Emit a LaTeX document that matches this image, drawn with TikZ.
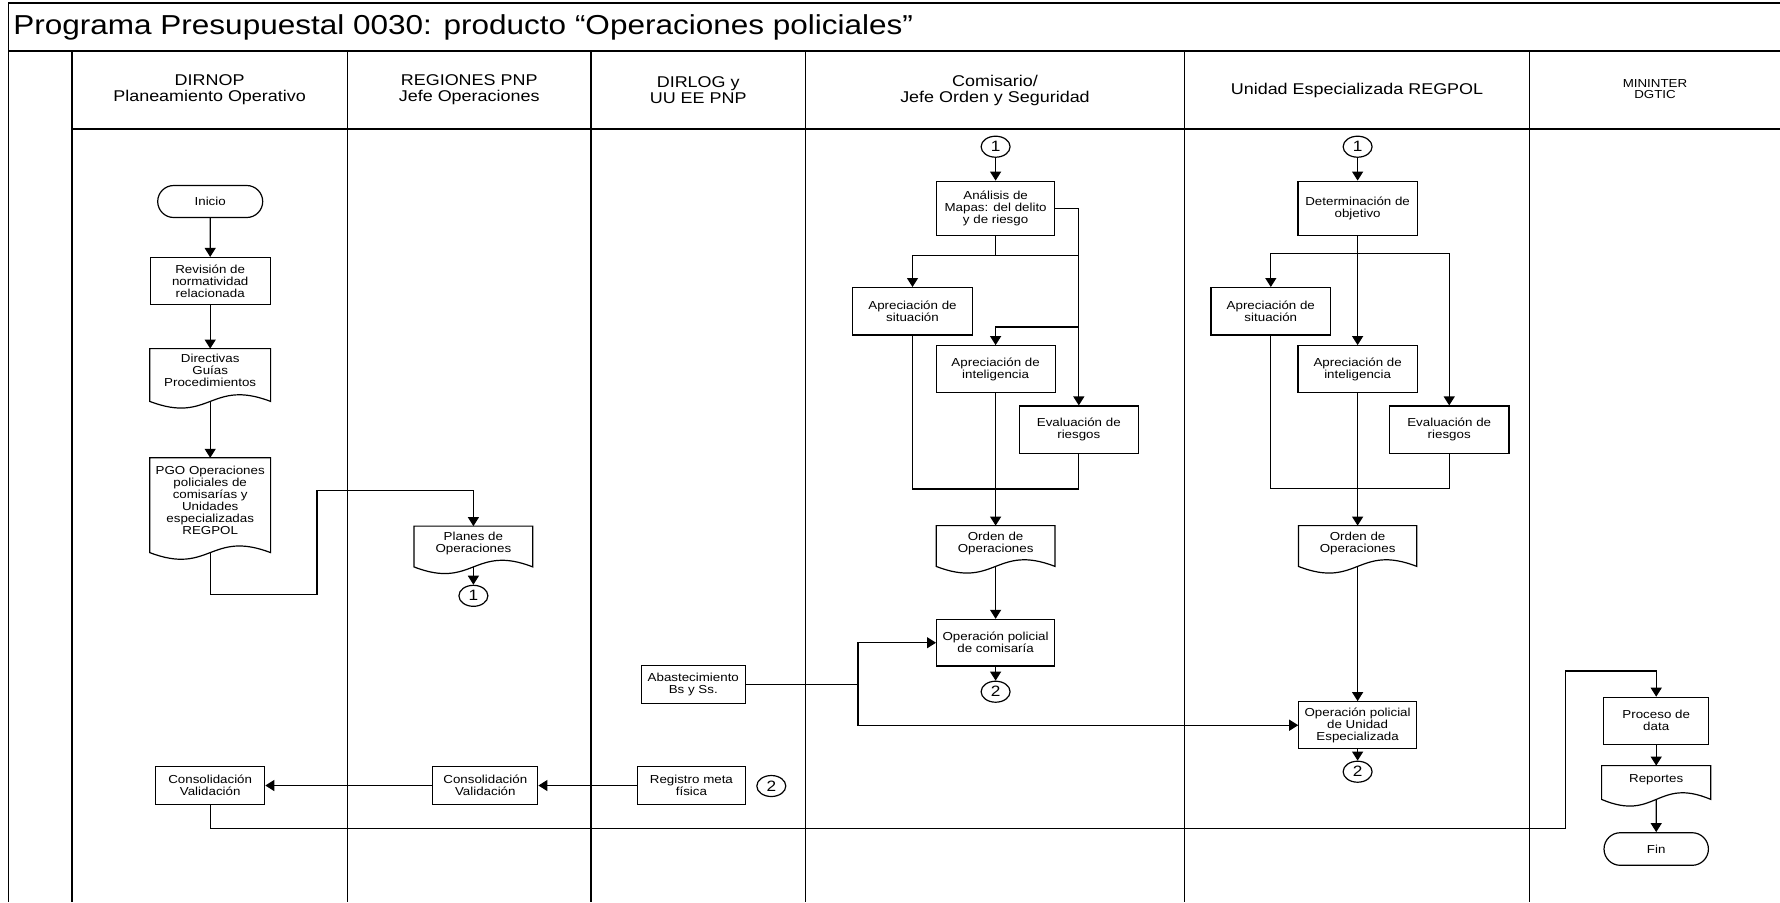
\documentclass[tikz,border=0pt]{standalone}
\usepackage{fontspec}
\setmainfont[FakeStretch=1.15]{Liberation Sans}
\usetikzlibrary{arrows.meta,shapes.geometric,shapes.misc,calc}
\newcommand{\titletxt}{\fontsize{13.7}{16}\selectfont}
\newcommand{\headtxt}{\fontsize{7.8}{8}\selectfont}
\newcommand{\tinytxt}{\fontsize{5.8}{5.5}\selectfont}
\newcommand{\smalltxt}{\fontsize{5.8}{6}\selectfont}
\newcommand{\numtxt}{\fontsize{7.5}{8}\selectfont}
\begin{document}
\begin{tikzpicture}[x=0.5pt,y=-0.5pt,
    proc/.style={draw, rectangle, line width=0.6pt, align=center, font=\smalltxt, inner sep=1pt},
    doc/.style={rectangle, align=center, font=\smalltxt, inner sep=1pt},
    term/.style={draw, rounded rectangle, line width=0.6pt, font=\smalltxt, inner sep=1pt},
    conn/.style={draw, ellipse, line width=0.6pt, font=\numtxt, inner sep=0pt, minimum width=14.5pt, minimum height=10.5pt},
    flow/.style={line width=0.6pt, -{Triangle[length=4.5pt,width=5.5pt]}},
    lane/.style={line width=0.9pt},
    head/.style={align=center, font=\headtxt}]
    \useasboundingbox (0,0) rectangle (1780,902);
    % frame and lanes
    \draw[lane] (1780,3) -- (8.5,3) -- (8.5,902);
    \draw[lane] (8.5,50.7) -- (1780,50.7);
    \draw[lane] (71.7,129.3) -- (1780,129.3);
    \draw[lane] (71.7,50.7) -- (71.7,902);
    \draw[lane] (347.5,50.7) -- (347.5,902);
    \draw[lane] (591,50.7) -- (591,902);
    \draw[lane] (805.5,50.7) -- (805.5,902);
    \draw[lane] (1184.5,50.7) -- (1184.5,902);
    \draw[lane] (1529.5,50.7) -- (1529.5,902);
    \node[anchor=west, font=\titletxt, inner sep=0pt] (title) at (13,27) {Programa Presupuestal 0030: producto “Operaciones policiales”};
    \node[head] (h1) at (209.6,90) {DIRNOP\\Planeamiento Operativo};
    \node[head] (h2) at (469.2,90) {REGIONES PNP\\Jefe Operaciones};
    \node[head] (h3) at (698.2,90) {DIRLOG y\\UU EE PNP};
    \node[head] (h4) at (995,90) {Comisario/\\Jefe Orden y Seguridad};
    \node[head] (h5) at (1357,90) {Unidad Especializada REGPOL};
    \node[align=center, font=\tinytxt] (h6) at (1655,89) {MININTER\\DGTIC};

    % DIRNOP
    \node[term, minimum width=54.5pt, minimum height=16pt] (inicio) at (210.2,201.5) {Inicio};
    \node[proc, minimum width=60pt, minimum height=23.5pt] (revision) at (210.2,281) {Revisión de\\normatividad\\relacionada};
    \node[doc, minimum width=60pt, minimum height=21pt] (directivas) at (210.2,370) {Directivas\\Guías\\Procedimientos};
    \draw[line width=0.6pt] (directivas.north west) -- (directivas.north east) -- ($(directivas.south east)+(0,10)$) .. controls +(-60,-23) and +(60,23) .. ($(directivas.south west)+(0,10)$) -- cycle;
    \coordinate (directivas-b) at ($(directivas.south)+(0,10)$);
    \node[doc, minimum width=60pt, minimum height=42.5pt] (pgo) at (210.2,500.7) {PGO Operaciones\\policiales de\\comisarías y\\Unidades\\especializadas\\REGPOL};
    \draw[line width=0.6pt] (pgo.north west) -- (pgo.north east) -- ($(pgo.south east)+(0,9)$) .. controls +(-60,-23) and +(60,23) .. ($(pgo.south west)+(0,9)$) -- cycle;
    \coordinate (pgo-b) at ($(pgo.south)+(0,9)$);
    \node[proc, minimum width=54.5pt, minimum height=19pt] (cons1) at (210.2,785.5) {Consolidación\\Validación};

    % REGIONES PNP
    \node[doc, minimum width=59pt, minimum height=16.5pt] (planes) at (473.4,543) {Planes de\\Operaciones};
    \draw[line width=0.6pt] (planes.north west) -- (planes.north east) -- ($(planes.south east)+(0,7)$) .. controls +(-59,-23) and +(59,23) .. ($(planes.south west)+(0,7)$) -- cycle;
    \coordinate (planes-b) at ($(planes.south)+(0,7)$);
    \node[conn] (c1a) at (473.4,595.8) {1};
    \node[proc, minimum width=52.5pt, minimum height=19pt] (cons2) at (485.3,785.5) {Consolidación\\Validación};

    % DIRLOG
    \node[proc, minimum width=52pt, minimum height=19pt] (abast) at (693.3,684.2) {Abastecimiento\\Bs y Ss.};
    \node[proc, minimum width=54pt, minimum height=19pt] (registro) at (691.4,785.5) {Registro meta\\física};
    \node[conn] (c2c) at (771.3,786) {2};

    % Comisario
    \node[conn] (c1b) at (995.6,146.7) {1};
    \node[proc, minimum width=58.8pt, minimum height=27pt] (analisis) at (995.6,208.2) {Análisis de\\Mapas: del delito\\y de riesgo};
    \node[proc, minimum width=59.8pt, minimum height=23.7pt] (sit1) at (912.5,311.3) {Apreciación de\\situación};
    \node[proc, minimum width=59.5pt, minimum height=23.5pt] (int1) at (995.6,369.2) {Apreciación de\\inteligencia};
    \node[proc, minimum width=59.5pt, minimum height=23.7pt] (eva1) at (1078.8,429.7) {Evaluación de\\riesgos};
    \node[doc, minimum width=59pt, minimum height=17pt] (orden1) at (995.6,543) {Orden de\\Operaciones};
    \draw[line width=0.6pt] (orden1.north west) -- (orden1.north east) -- ($(orden1.south east)+(0,6)$) .. controls +(-59,-23) and +(59,23) .. ($(orden1.south west)+(0,6)$) -- cycle;
    \coordinate (orden1-b) at ($(orden1.south)+(0,6)$);
    \node[proc, minimum width=59pt, minimum height=23.3pt] (op1) at (995.6,642.7) {Operación policial\\de comisaría};
    \node[conn] (c2a) at (995.6,691.7) {2};

    % Unidad Especializada
    \node[conn] (c1c) at (1357.6,146.7) {1};
    \node[proc, minimum width=59.7pt, minimum height=27pt] (det) at (1357.6,208.2) {Determinación de\\objetivo};
    \node[proc, minimum width=59.8pt, minimum height=23.7pt] (sit2) at (1270.8,311.3) {Apreciación de\\situación};
    \node[proc, minimum width=59.7pt, minimum height=23.5pt] (int2) at (1357.6,369.2) {Apreciación de\\inteligencia};
    \node[proc, minimum width=59.8pt, minimum height=23.7pt] (eva2) at (1449.2,429.7) {Evaluación de\\riesgos};
    \node[doc, minimum width=58.8pt, minimum height=17pt] (orden2) at (1357.6,543) {Orden de\\Operaciones};
    \draw[line width=0.6pt] (orden2.north west) -- (orden2.north east) -- ($(orden2.south east)+(0,6)$) .. controls +(-59,-23) and +(59,23) .. ($(orden2.south west)+(0,6)$) -- cycle;
    \coordinate (orden2-b) at ($(orden2.south)+(0,6)$);
    \node[proc, minimum width=58.8pt, minimum height=23.5pt] (opu) at (1357.6,725.2) {Operación policial\\de Unidad\\Especializada};
    \node[conn] (c2b) at (1357.6,771.7) {2};

    % MININTER DGTIC
    \node[proc, minimum width=52.6pt, minimum height=23.5pt] (proceso) at (1656.2,720.8) {Proceso de\\data};
    \node[doc, minimum width=54.2pt, minimum height=14pt] (reportes) at (1656.2,780) {Reportes};
    \draw[line width=0.6pt] (reportes.north west) -- (reportes.north east) -- ($(reportes.south east)+(0,5)$) .. controls +(-54,-23) and +(54,23) .. ($(reportes.south west)+(0,5)$) -- cycle;
    \coordinate (reportes-b) at ($(reportes.south)+(0,5)$);
    \node[term, minimum width=54.2pt, minimum height=16.3pt] (fin) at (1656.2,849) {Fin};

    % connectors
    \draw[flow] (inicio) -- (revision);
    \draw[flow] (revision) -- (directivas);
    \draw[flow] (directivas-b) -- (pgo);
    \coordinate (jog) at (317,490.7);
    \draw[flow] (pgo-b) -- ++(0,42) -| (jog) -| (planes.north);
    \draw[flow] (planes-b) -- (c1a);
    \draw[flow] (c1b) -- (analisis);
    \draw[flow] (analisis.east) -| (eva1.north);
    \coordinate (split1) at ($(analisis.south)+(0,19.3)$);
    \draw[line width=0.6pt] (analisis.south) -- (split1) -- (split1 -| eva1.north);
    \draw[flow] (split1) -| (sit1.north);
    \coordinate (tap1) at (1078.8,327);
    \draw[flow] (tap1) -| (int1.north);
    \coordinate (merge1) at (1078.8,489);
    \draw[line width=0.6pt] (sit1.south) |- (merge1) -- (eva1.south);
    \draw[flow] (int1) -- (orden1);
    \draw[flow] (orden1-b) -- (op1);
    \draw[flow] (op1) -- (c2a);
    \coordinate (bus) at (858,684.2);
    \draw[line width=0.6pt] (abast) -- (bus);
    \draw[flow] (bus) |- (op1.west);
    \draw[flow] (bus) |- (opu.west);
    \draw[flow] (c1c) -- (det);
    \draw[flow] (det) -- (int2);
    \coordinate (split2) at (1357.6,253.3);
    \draw[flow] (split2) -| (sit2.north);
    \draw[flow] (split2) -| (eva2.north);
    \coordinate (merge2) at (1449.2,488.3);
    \draw[line width=0.6pt] (sit2.south) |- (merge2) -- (eva2.south);
    \draw[flow] (int2) -- (orden2);
    \draw[flow] (orden2-b) -- (opu);
    \draw[flow] (opu) -- (c2b);
    \draw[flow] (registro) -- (cons2);
    \draw[flow] (cons2) -- (cons1);
    \coordinate (low) at (1565.4,828.3);
    \coordinate (high) at (1565.4,671);
    \draw[flow] (cons1.south) |- (low) -- (high) -| (proceso.north);
    \draw[flow] (proceso) -- (reportes);
    \draw[flow] (reportes-b) -- (fin);
\end{tikzpicture}
\end{document}
